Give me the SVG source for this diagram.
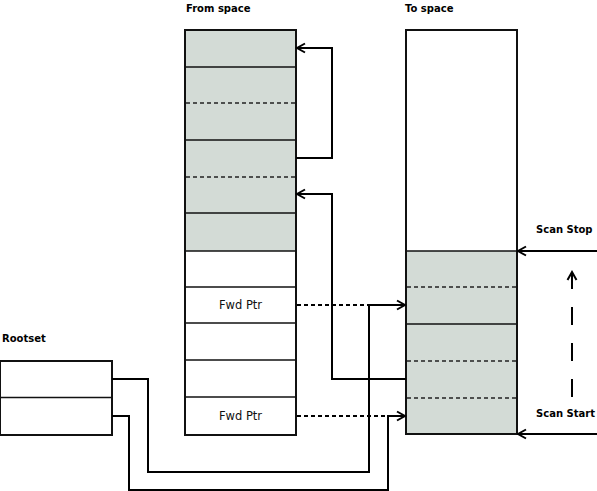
<svg xmlns="http://www.w3.org/2000/svg" width="597" height="491" viewBox="0 0 597 491">
<style>
.lbl{font-family:"DejaVu Sans",sans-serif;font-size:10px;font-weight:bold;fill:#000}
.cell{font-family:"DejaVu Sans",sans-serif;font-size:11.5px;fill:#111}
.box{fill:none;stroke:#111;stroke-width:2}
.sep{stroke:#111;stroke-width:1.6}
.dsep{stroke:#222;stroke-width:1.5;stroke-dasharray:4,3}
.grey{fill:#d3dbd6}
.conn{fill:none;stroke:#000;stroke-width:2}
.dot{fill:none;stroke:#000;stroke-width:2;stroke-dasharray:4,3}
</style>
<defs>
<marker id="ah" markerUnits="userSpaceOnUse" viewBox="-10 -6 12 12" refX="0" refY="0" markerWidth="12" markerHeight="12" orient="auto">
<path d="M-8,-4.5 L0,0 L-8,4.5" fill="none" stroke="#000" stroke-width="2"/>
</marker>
</defs>
<rect width="597" height="491" fill="#fff"/>
<g id="from-space">
<text class="lbl" x="186" y="12">From space</text>
<rect class="grey" x="185" y="30" width="111" height="221"/>
<rect x="185" y="251" width="111" height="184" fill="#fff"/>
<line class="sep" x1="185" y1="67" x2="296" y2="67"/>
<line class="dsep" x1="186" y1="103" x2="295" y2="103"/>
<line class="sep" x1="185" y1="140" x2="296" y2="140"/>
<line class="dsep" x1="186" y1="177" x2="295" y2="177"/>
<line class="sep" x1="185" y1="213" x2="296" y2="213"/>
<line class="sep" x1="185" y1="251" x2="296" y2="251"/>
<line class="sep" x1="185" y1="287" x2="296" y2="287"/>
<line class="sep" x1="185" y1="323" x2="296" y2="323"/>
<line class="sep" x1="185" y1="360" x2="296" y2="360"/>
<line class="sep" x1="185" y1="397" x2="296" y2="397"/>
<text class="cell" x="240.5" y="309" text-anchor="middle">Fwd Ptr</text>
<text class="cell" x="240.5" y="420" text-anchor="middle">Fwd Ptr</text>
<rect class="box" x="185" y="30" width="111" height="405"/>
</g>
<g id="to-space">
<text class="lbl" x="405" y="12">To space</text>
<rect x="406" y="30" width="111" height="221" fill="#fff"/>
<rect class="grey" x="406" y="251" width="111" height="183"/>
<line class="sep" x1="406" y1="251" x2="517" y2="251"/>
<line class="dsep" x1="407" y1="287" x2="516" y2="287"/>
<line class="sep" x1="406" y1="324" x2="517" y2="324"/>
<line class="dsep" x1="407" y1="361" x2="516" y2="361"/>
<line class="dsep" x1="407" y1="398" x2="516" y2="398"/>
<rect class="box" x="406" y="30" width="111" height="404"/>
</g>
<g id="rootset">
<text class="lbl" x="2" y="342">Rootset</text>
<rect x="0" y="361" width="112" height="74" fill="#fff"/>
<line class="sep" x1="0" y1="397.5" x2="112" y2="397.5"/>
<rect class="box" x="0" y="361" width="112" height="74"/>
</g>
<g id="scan-labels">
<text class="lbl" x="536" y="233">Scan Stop</text>
<text class="lbl" x="536" y="417">Scan Start</text>
</g>
<g id="connectors">
<path class="conn" d="M296,158 H332 V48 H297" marker-end="url(#ah)"/>
<path class="conn" d="M406,379 H332 V194 H297" marker-end="url(#ah)"/>
<path class="dot" d="M297,305 H370"/>
<path class="dot" d="M297,416 H388"/>
<path class="conn" d="M112,379 H148 V472 H369 V305 H405" marker-end="url(#ah)"/>
<path class="conn" d="M112,416 H129 V490 H388 V416 H405" marker-end="url(#ah)"/>
<path class="conn" d="M597,251 H518" marker-end="url(#ah)"/>
<path class="conn" d="M597,434 H518" marker-end="url(#ah)"/>
<path class="conn" d="M572,397 V289" stroke-dasharray="18,18"/>
<path class="conn" d="M572,289 V272" marker-end="url(#ah)"/>
</g>
</svg>
